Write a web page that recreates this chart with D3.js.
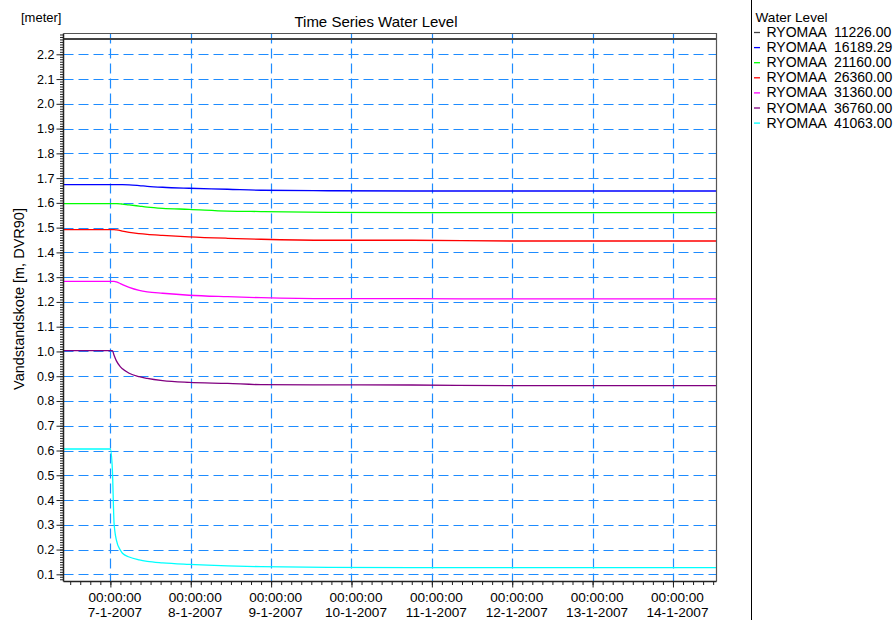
<!DOCTYPE html>
<html><head><meta charset="utf-8">
<script src="https://cdn.jsdelivr.net/npm/d3@7"></script>
<style>
body{margin:0;background:#fff}
text{font-family:"Liberation Sans",Arial,Helvetica,sans-serif;fill:#000}
</style>
</head><body>
<svg id="chart" width="895" height="620"></svg>
<script>
// ---------- data (hours relative to 7-1-2007 00:00:00) ----------
const hours = [-14, 0, 0.6, 1.1, 1.8, 3, 3.6, 5.6, 8.6, 11, 15.6, 23.5, 35, 45, 65, 90, 120, 150, 181];
const ry11226 = [2.262,2.262,2.262,2.262,2.262,2.262,2.262,2.262,2.262,2.262,2.262,2.262,2.262,2.262,2.262,2.262,2.262,2.262,2.262];
const ry16189 = [1.6735,1.6735,1.6735,1.6735,1.6735,1.6735,1.6735,1.673,1.670,1.667,1.663,1.659,1.655,1.651,1.649,1.648,1.648,1.648,1.648];
const ry21160 = [1.597,1.597,1.597,1.597,1.597,1.596,1.595,1.592,1.587,1.583,1.578,1.574,1.567,1.565,1.562,1.561,1.561,1.561,1.561];
const ry26360 = [1.492,1.492,1.492,1.492,1.491,1.488,1.486,1.481,1.476,1.473,1.469,1.463,1.457,1.453,1.449,1.449,1.446,1.446,1.446];
const ry31360 = [1.283,1.283,1.283,1.283,1.281,1.274,1.270,1.259,1.247,1.241,1.235,1.227,1.221,1.217,1.213,1.213,1.212,1.212,1.212];
const ry36760 = [1.003,1.003,1.003,0.985,0.962,0.938,0.930,0.912,0.898,0.891,0.882,0.875,0.871,0.866,0.865,0.8645,0.862,0.862,0.862];
const ry41063 = [0.606,0.606,0.520,0.307,0.238,0.197,0.185,0.170,0.158,0.152,0.146,0.140,0.134,0.131,0.128,0.127,0.127,0.127,0.127];
const seriesValues = [ry11226, ry16189, ry21160, ry26360, ry31360, ry36760, ry41063];
const seriesNames = ["RYOMAA  11226.00","RYOMAA  16189.29","RYOMAA  21160.00","RYOMAA  26360.00","RYOMAA  31360.00","RYOMAA  36760.00","RYOMAA  41063.00"];
const yTickValues = [0.1,0.2,0.3,0.4,0.5,0.6,0.7,0.8,0.9,1.0,1.1,1.2,1.3,1.4,1.5,1.6,1.7,1.8,1.9,2.0,2.1,2.2];
const dayTicks = ["2007-01-07","2007-01-08","2007-01-09","2007-01-10","2007-01-11","2007-01-12","2007-01-13","2007-01-14"];
const titleText = "Time Series Water Level";
const unitText = "[meter]";
const yLabelText = "Vandstandskote [m, DVR90]";
const legendTitle = "Water Level";

// ---------- styles ----------
const seriesColors = ["#444444","#0000ff","#00ff00","#ff0000","#ff00ff","#800080","#00ffff"];
const gridColor = "#1e8cff";

const svg = d3.select("#chart");
const L = 63.5, R = 716.5, T = 33.5, B = 581.5;
const base = Date.UTC(2007, 0, 7);
const H = 3600 * 1000;
const x = d3.scaleUtc().domain([new Date(base - 14 * H), new Date(base + 181 * H)]).range([L, R]);
const y = d3.scaleLinear().domain([0.073, 2.286]).range([B - 0.5, T - 0.5]);

// clip
svg.append("clipPath").attr("id", "plotclip").append("rect")
  .attr("x", L).attr("y", T).attr("width", R - L).attr("height", B - T);

// grid
const dayDates = dayTicks.map(d => new Date(d + "T00:00:00Z"));
const grid = svg.append("g");
grid.selectAll("line.h").data(yTickValues).join("line")
  .attr("x1", L).attr("x2", R)
  .attr("y1", d => Math.round(y(d)) + 0.5).attr("y2", d => Math.round(y(d)) + 0.5)
  .attr("stroke", gridColor).attr("stroke-width", 1.2).attr("stroke-dasharray", "10,5");
grid.selectAll("line.v").data(dayDates).join("line")
  .attr("x1", d => Math.round(x(d)) + 0.5).attr("x2", d => Math.round(x(d)) + 0.5)
  .attr("y1", T).attr("y2", B)
  .attr("stroke", gridColor).attr("stroke-width", 1.2).attr("stroke-dasharray", "10,5");

// series
const line = d3.line()
  .x((d, i) => x(new Date(base + hours[i] * H)))
  .y(d => y(d))
  .curve(d3.curveMonotoneX);
svg.append("g").attr("clip-path", "url(#plotclip)")
  .selectAll("path").data(seriesValues).join("path")
  .attr("d", d => line(d))
  .attr("fill", "none")
  .attr("stroke", (d, i) => seriesColors[i])
  .attr("stroke-width", (d, i) => i === 0 ? 2 : 1.3);

// frame (top, right)
svg.append("path")
  .attr("d", `M${L},${T}H${R}V${B}`)
  .attr("fill", "none").attr("stroke", "#555").attr("stroke-width", 1.2);

// y axis
const yMinor = d3.range(8, 229).map(v => v / 100);
svg.append("g").attr("transform", `translate(${L},0)`)
  .call(d3.axisLeft(y).tickValues(yMinor).tickSize(3.5).tickFormat(""))
  .call(g => g.select(".domain").remove())
  .call(g => g.selectAll("line").attr("stroke", "#222"));
const yAxis = svg.append("g").attr("transform", `translate(${L},0)`)
  .call(d3.axisLeft(y).tickValues(yTickValues).tickSize(7).tickPadding(2).tickFormat(d => d.toFixed(1)));
yAxis.select(".domain").attr("d", `M0,${T}V${B}`).attr("stroke", "#222").attr("stroke-width", 1.5);
yAxis.selectAll("line").attr("stroke", "#222");
yAxis.selectAll("text").attr("font-size", "12.5px").attr("font-family", '"Liberation Sans",Arial,sans-serif').attr("fill", "#111");

// x axis
const xMinor = d3.utcHour.every(3).range(new Date(base - 14 * H), new Date(base + 181 * H + 1));
svg.append("g").attr("transform", `translate(0,${B})`)
  .call(d3.axisBottom(x).tickValues(xMinor).tickSize(3.5).tickFormat(""))
  .call(g => g.select(".domain").remove())
  .call(g => g.selectAll("line").attr("stroke", "#222"));
const fmtTime = d3.utcFormat("%H:%M:%S");
const fmtDate = d3.utcFormat("%-d-%-m-%Y");
const xAxis = svg.append("g").attr("transform", `translate(0,${B})`)
  .call(d3.axisBottom(x).tickValues(dayDates).tickSize(6).tickFormat(""));
xAxis.select(".domain").attr("d", `M${L},0H${R}`).attr("stroke", "#222").attr("stroke-width", 1.5);
xAxis.selectAll("line").attr("stroke", "#222");
xAxis.selectAll(".tick").each(function (d) {
  const t = d3.select(this).append("text")
    .attr("text-anchor", "middle").attr("font-size", "13.6px").attr("fill", "#111")
    .attr("x", 4);
  t.append("tspan").attr("x", 4).attr("y", 20).text(fmtTime(d));
  t.append("tspan").attr("x", 4).attr("y", 35).text(fmtDate(d));
});

// title & labels
svg.append("text").attr("x", 376).attr("y", 27).attr("text-anchor", "middle")
  .attr("font-size", "15px").text(titleText);
svg.append("text").attr("x", 21).attr("y", 22).attr("font-size", "13px").text(unitText);
svg.append("text").attr("transform", "translate(24,299) rotate(-90)")
  .attr("text-anchor", "middle").attr("font-size", "14.5px").text(yLabelText);

// legend
svg.append("line").attr("x1", 751.5).attr("x2", 751.5).attr("y1", 0).attr("y2", 620)
  .attr("stroke", "#000").attr("stroke-width", 1);
svg.append("text").attr("x", 755.5).attr("y", 22).attr("font-size", "13.6px").text(legendTitle);
const leg = svg.append("g").selectAll("g").data(seriesNames).join("g")
  .attr("transform", (d, i) => `translate(0,${37 + i * 15.1})`);
leg.append("line").attr("x1", 754).attr("x2", 760).attr("y1", -4.5).attr("y2", -4.5)
  .attr("stroke", (d, i) => seriesColors[i]).attr("stroke-width", 1.3);
leg.append("text").attr("x", 766.5).attr("y", 0).attr("font-size", "14px")
  .style("white-space", "pre").text(d => d);
</script>
</body></html>
